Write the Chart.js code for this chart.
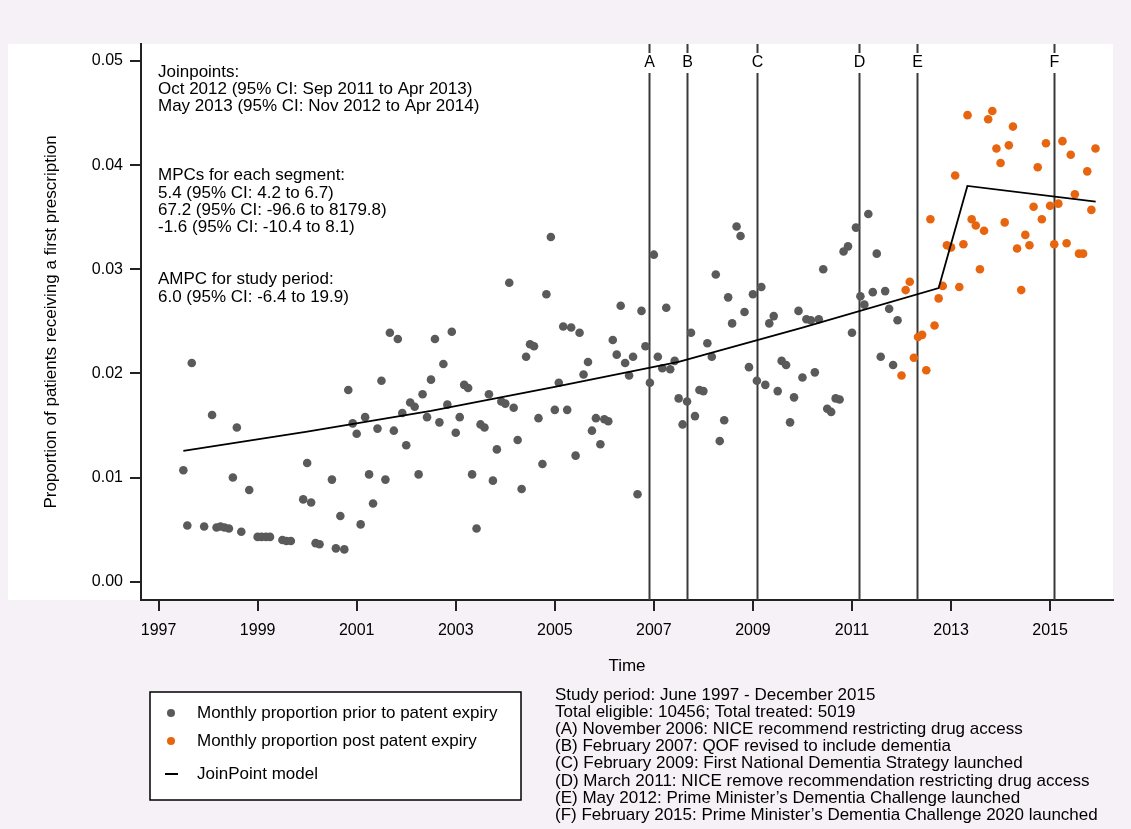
<!DOCTYPE html>
<html>
<head>
<meta charset="utf-8">
<script src="https://cdn.jsdelivr.net/npm/chart.js@4.4.0/dist/chart.umd.min.js"></script>
<style>
  body { margin: 0; background: #f6f1f6; }
  canvas { display: block; }
</style>
</head>
<body>
<canvas id="myChart" width="1131" height="829"></canvas>
<script>
// monthly proportion before patent expiry (decimal year, value)
var preTime = [1997.50, 1997.58, 1997.67, 1997.92, 1998.08, 1998.17, 1998.25, 1998.33, 1998.42, 1998.50, 1998.58, 1998.67, 1998.83,
  1999.00, 1999.08, 1999.17, 1999.25, 1999.50, 1999.58, 1999.67, 1999.92,
  2000.00, 2000.08, 2000.17, 2000.25, 2000.50, 2000.58, 2000.67, 2000.75, 2000.83, 2000.92,
  2001.00, 2001.08, 2001.17, 2001.25, 2001.33, 2001.42, 2001.50, 2001.58, 2001.67, 2001.75, 2001.83, 2001.92,
  2002.00, 2002.08, 2002.17, 2002.25, 2002.33, 2002.42, 2002.50, 2002.58, 2002.67, 2002.75, 2002.83, 2002.92,
  2003.00, 2003.08, 2003.17, 2003.25, 2003.33, 2003.42, 2003.50, 2003.58, 2003.67, 2003.75, 2003.83, 2003.92,
  2004.00, 2004.08, 2004.17, 2004.25, 2004.33, 2004.42, 2004.50, 2004.58, 2004.67, 2004.75, 2004.83, 2004.92,
  2005.00, 2005.08, 2005.17, 2005.25, 2005.33, 2005.42, 2005.50, 2005.58, 2005.67, 2005.75, 2005.83, 2005.92,
  2006.00, 2006.08, 2006.17, 2006.25, 2006.33, 2006.42, 2006.50, 2006.58, 2006.67, 2006.75, 2006.83, 2006.92,
  2007.00, 2007.08, 2007.17, 2007.25, 2007.33, 2007.42, 2007.50, 2007.58, 2007.67, 2007.75, 2007.83, 2007.92,
  2008.00, 2008.08, 2008.17, 2008.25, 2008.33, 2008.42, 2008.50, 2008.58, 2008.67, 2008.75, 2008.83, 2008.92,
  2009.00, 2009.08, 2009.17, 2009.25, 2009.33, 2009.42, 2009.50, 2009.58, 2009.67, 2009.75, 2009.83, 2009.92,
  2010.00, 2010.08, 2010.17, 2010.25, 2010.33, 2010.42, 2010.50, 2010.58, 2010.67, 2010.75, 2010.83, 2010.92,
  2011.00, 2011.08, 2011.17, 2011.25, 2011.33, 2011.42, 2011.50, 2011.58, 2011.67, 2011.75, 2011.83, 2011.92];
var preValue = [0.0107, 0.0054, 0.0210, 0.0053, 0.0160, 0.0052, 0.0053, 0.0052, 0.0051, 0.0100, 0.0148, 0.0048, 0.0088,
  0.0043, 0.0043, 0.0043, 0.0043, 0.0040, 0.0039, 0.0039, 0.0079,
  0.0114, 0.0076, 0.0037, 0.0036, 0.0098, 0.0032, 0.0063, 0.0031, 0.0184, 0.0152,
  0.0142, 0.0055, 0.0158, 0.0103, 0.0075, 0.0147, 0.0193, 0.0098, 0.0239, 0.0145, 0.0233, 0.0162,
  0.0131, 0.0172, 0.0168, 0.0103, 0.0180, 0.0158, 0.0194, 0.0233, 0.0153, 0.0209, 0.0170, 0.0240,
  0.0143, 0.0158, 0.0189, 0.0186, 0.0103, 0.0051, 0.0151, 0.0148, 0.0180, 0.0097, 0.0127, 0.0173,
  0.0171, 0.0287, 0.0167, 0.0136, 0.0089, 0.0216, 0.0228, 0.0226, 0.0157, 0.0113, 0.0276, 0.0331,
  0.0165, 0.0191, 0.0245, 0.0165, 0.0244, 0.0121, 0.0239, 0.0199, 0.0211, 0.0145, 0.0157, 0.0132,
  0.0156, 0.0154, 0.0232, 0.0218, 0.0265, 0.0210, 0.0198, 0.0216, 0.0084, 0.0260, 0.0226, 0.0191,
  0.0314, 0.0216, 0.0205, 0.0263, 0.0204, 0.0212, 0.0176, 0.0151, 0.0173, 0.0239, 0.0159, 0.0184,
  0.0183, 0.0229, 0.0216, 0.0295, 0.0135, 0.0155, 0.0273, 0.0248, 0.0341, 0.0332, 0.0259, 0.0206,
  0.0276, 0.0193, 0.0283, 0.0189, 0.0248, 0.0255, 0.0183, 0.0212, 0.0208, 0.0153, 0.0177, 0.0260,
  0.0196, 0.0252, 0.0251, 0.0201, 0.0252, 0.0300, 0.0166, 0.0163, 0.0176, 0.0175, 0.0317, 0.0322,
  0.0239, 0.0340, 0.0274, 0.0266, 0.0353, 0.0278, 0.0315, 0.0216, 0.0279, 0.0262, 0.0208, 0.0251];

// monthly proportion after patent expiry, Jan 2012 - Dec 2015
var postStart = 2012;
var postValue = [0.0198, 0.0280, 0.0288, 0.0215, 0.0235, 0.0237, 0.0203, 0.0348, 0.0246, 0.0272, 0.0284, 0.0323,
  0.0321, 0.0390, 0.0283, 0.0324, 0.0448, 0.0348, 0.0342, 0.0300, 0.0337, 0.0444, 0.0452, 0.0416,
  0.0402, 0.0345, 0.0419, 0.0437, 0.0320, 0.0280, 0.0333, 0.0323, 0.0360, 0.0398, 0.0348, 0.0421,
  0.0361, 0.0324, 0.0363, 0.0423, 0.0325, 0.0410, 0.0372, 0.0315, 0.0315, 0.0394, 0.0357, 0.0416];

// joinpoint model line
var modelTime = [1997.5, 2000, 2002.5, 2005, 2007.5, 2010, 2012.75, 2013.33, 2015.92];
var modelValue = [0.01255, 0.0144, 0.0164, 0.0187, 0.0211, 0.0244, 0.0282, 0.0380, 0.0365];

var eventTime = [2006.91, 2007.67, 2009.08, 2011.15, 2012.32, 2015.08];
var eventLabel = ['A', 'B', 'C', 'D', 'E', 'F'];

var xTicks = [1997, 1999, 2001, 2003, 2005, 2007, 2009, 2011, 2013, 2015];
var yTicks = [0, 0.01, 0.02, 0.03, 0.04, 0.05];

var infoLines = ['Joinpoints:', 'Oct 2012 (95% CI: Sep 2011 to Apr 2013)', 'May 2013 (95% CI: Nov 2012 to Apr 2014)', '',
  '', '', 'MPCs for each segment:', '5.4 (95% CI: 4.2 to 6.7)', '67.2 (95% CI: -96.6 to 8179.8)', '-1.6 (95% CI: -10.4 to 8.1)',
  '', '', 'AMPC for study period:', '6.0 (95% CI: -6.4 to 19.9)'];
var noteLines = ['Study period: June 1997 - December 2015', 'Total eligible: 10456; Total treated: 5019',
  '(A) November 2006: NICE recommend restricting drug access', '(B) February 2007: QOF revised to include dementia',
  '(C) February 2009: First National Dementia Strategy launched', '(D) March 2011: NICE remove recommendation restricting drug access',
  '(E) May 2012: Prime Minister\u2019s Dementia Challenge launched', '(F) February 2015: Prime Minister\u2019s Dementia Challenge 2020 launched'];

var FONT = '"Liberation Sans", Arial, sans-serif';
var grey = '#5a5a5a';
var orange = '#e8650f';

var preData = preTime.map((t, i) => ({x: t, y: preValue[i]}));
var postData = postValue.map((v, i) => ({x: postStart + i / 12, y: v}));
var modelData = modelTime.map((t, i) => ({x: t, y: modelValue[i]}));

const bgPlugin = {
  id: 'bg',
  beforeDraw(chart) {
    const c = chart.ctx, a = chart.chartArea;
    c.save();
    c.fillStyle = '#f6f1f6';
    c.fillRect(0, 0, chart.width, chart.height);
    c.fillStyle = '#ffffff';
    c.fillRect(8, a.top, a.right - 8, a.bottom - a.top);
    c.restore();
  }
};

const eventPlugin = {
  id: 'events',
  beforeDatasetsDraw(chart) {
    const c = chart.ctx, a = chart.chartArea, x = chart.scales.x;
    c.save();
    c.strokeStyle = '#3a3a3a';
    c.lineWidth = 2;
    c.fillStyle = '#000';
    c.font = '16px ' + FONT;
    c.textAlign = 'center';
    c.textBaseline = 'middle';
    eventTime.forEach((t, i) => {
      const px = Math.round(x.getPixelForValue(t)) + 0.5;
      c.beginPath();
      c.moveTo(px, a.top);
      c.lineTo(px, a.top + 9);
      c.moveTo(px, a.top + 29);
      c.lineTo(px, a.bottom);
      c.stroke();
      c.fillText(eventLabel[i], px, a.top + 19);
    });
    c.restore();
  }
};

const textPlugin = {
  id: 'texts',
  afterDraw(chart) {
    const c = chart.ctx;
    c.save();
    c.fillStyle = '#000';
    c.font = '17px ' + FONT;
    c.textAlign = 'left';
    c.textBaseline = 'middle';
    infoLines.forEach((s, i) => { if (s) c.fillText(s, 158, 72 + i * 17.3); });
    noteLines.forEach((s, i) => c.fillText(s, 555, 695 + i * 17.2));

    // legend box
    c.fillStyle = '#fff';
    c.fillRect(150, 692, 371, 108);
    c.strokeStyle = '#000';
    c.lineWidth = 1.5;
    c.strokeRect(150, 692, 371, 108);
    c.fillStyle = grey;
    c.beginPath(); c.arc(171, 713, 4, 0, Math.PI * 2); c.fill();
    c.fillStyle = orange;
    c.beginPath(); c.arc(171, 741, 4, 0, Math.PI * 2); c.fill();
    c.strokeStyle = '#000';
    c.lineWidth = 2;
    c.beginPath(); c.moveTo(165, 774); c.lineTo(178, 774); c.stroke();
    c.fillStyle = '#000';
    c.fillText('Monthly proportion prior to patent expiry', 197, 713);
    c.fillText('Monthly proportion post patent expiry', 197, 741);
    c.fillText('JoinPoint model', 197, 774);
    c.restore();
  }
};

const ctx = document.getElementById('myChart').getContext('2d');
let myChart = new Chart(ctx, {
  type: 'scatter',
  data: {
    datasets: [{
      type: 'line',
      data: modelData,
      borderColor: '#000',
      borderWidth: 1.8,
      pointRadius: 0,
      tension: 0,
      fill: false
    }, {
      data: preData,
      backgroundColor: grey,
      borderWidth: 0,
      pointRadius: 4.3
    }, {
      data: postData,
      backgroundColor: orange,
      borderWidth: 0,
      pointRadius: 4.3
    }]
  },
  options: {
    responsive: false,
    animation: false,
    layout: { padding: { left: 0, right: 18, top: 44, bottom: 149 } },
    scales: {
      x: {
        type: 'linear',
        min: 1996.645,
        max: 2016.27,
        afterFit: s => { s.height = 80; },
        afterBuildTicks: s => { s.ticks = xTicks.map(v => ({value: v})); },
        grid: { drawOnChartArea: false, tickLength: 11, color: '#222', lineWidth: 2 },
        border: { color: '#222', width: 2 },
        ticks: { color: '#000', font: { family: FONT, size: 16 }, padding: 10, maxRotation: 0, callback: v => String(v) },
        title: { display: true, text: 'Time', color: '#000', font: { family: FONT, size: 17 }, padding: { top: 0, bottom: 3 } }
      },
      y: {
        min: -0.00176,
        max: 0.05163,
        afterFit: s => { s.width = 141; },
        afterBuildTicks: s => { s.ticks = yTicks.map(v => ({value: v})); },
        grid: { drawOnChartArea: false, tickLength: 11, color: '#222', lineWidth: 2 },
        border: { color: '#222', width: 2 },
        ticks: { color: '#000', font: { family: FONT, size: 16 }, padding: 7, callback: v => v.toFixed(2) },
        title: { display: true, text: 'Proportion of patients receiving a first prescription', color: '#000',
          font: { family: FONT, size: 17 }, padding: { top: 41, bottom: 0 } }
      }
    },
    plugins: {
      legend: { display: false },
      tooltip: { enabled: false }
    }
  },
  plugins: [bgPlugin, eventPlugin, textPlugin]
});
</script>
</body>
</html>
